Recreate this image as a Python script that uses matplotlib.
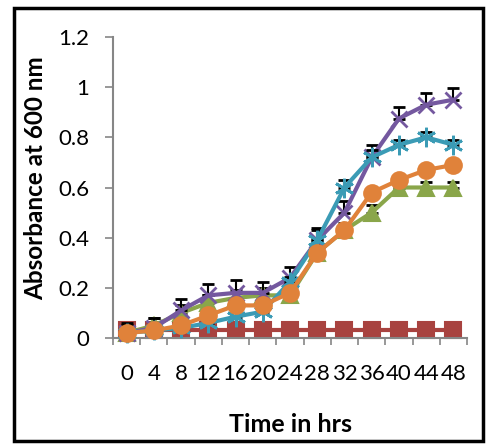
import numpy as np
import matplotlib.pyplot as plt
from matplotlib.patches import Rectangle

# Dados (absorbância a 600 nm)
tempo = ['0', '4', '8', '12', '16', '20', '24', '28', '32', '36', '40', '44', '48']

quadrado = [0.03, 0.03, 0.03, 0.03, 0.03, 0.03, 0.03, 0.03, 0.03, 0.03, 0.03, 0.03, 0.03]
triangulo = [0.02, 0.05, 0.10, 0.14, 0.16, 0.17, 0.17, 0.34, 0.43, 0.50, 0.60, 0.60, 0.60]
xis = [0.02, 0.04, 0.11, 0.17, 0.18, 0.18, 0.24, 0.39, 0.50, 0.72, 0.875, 0.93, 0.95]
asterisco = [0.02, 0.03, 0.04, 0.06, 0.085, 0.105, 0.225, 0.39, 0.60, 0.72, 0.77, 0.80, 0.77]
circulo = [0.02, 0.03, 0.05, 0.09, 0.13, 0.13, 0.18, 0.34, 0.43, 0.58, 0.63, 0.67, 0.69]

err_quadrado = [0.01] * 13
err_triangulo = [0.03, 0.03, 0.03, 0.03, 0.03, 0.03, 0.03, 0.03, 0.03, 0.03, 0.02, 0.02, 0.02]
err_xis = [0.04, 0.04, 0.045, 0.045, 0.05, 0.045, 0.045, 0.05, 0.045, 0.05, 0.045, 0.045, 0.045]
err_asterisco = [0.02, 0.02, 0.02, 0.02, 0.02, 0.02, 0.02, 0.04, 0.03, 0.03, 0.02, 0.02, 0.02]
err_circulo = [0.01] * 13

series = [
    (quadrado, err_quadrado, '#A8423F', 's', 11),
    (triangulo, err_triangulo, '#8AA64A', '^', 12),
    (xis, err_xis, '#74589F', 'x', 11),
    (asterisco, err_asterisco, '#3B9BB5', (6, 2, 0), 14),
    (circulo, err_circulo, '#E0823A', 'o', 12),
]

plt.rcParams['font.family'] = ['Lato', 'DejaVu Sans']

fig = plt.figure(figsize=(4.86, 4.44), dpi=100)
ax = fig.add_axes([0.2325, 0.2387, 0.7285, 0.678])

x = np.arange(len(tempo))
for i, (vals, err, cor, marc, ms) in enumerate(series):
    z = 2 + i
    ax.errorbar(x, vals, yerr=[np.zeros(len(vals)), err], fmt='none',
                ecolor='black', elinewidth=1.5, capsize=4, capthick=2, zorder=z)
    ax.plot(x, vals, color=cor, linewidth=3, marker=marc, markersize=ms,
            markeredgewidth=1.5 if marc not in ('x',) and not isinstance(marc, tuple) else 2,
            markeredgecolor=cor, markerfacecolor=cor, zorder=z + 0.5, clip_on=False)

ax.set_xlim(-0.5, 12.5)
ax.set_ylim(0, 1.2)
ax.set_yticks(np.arange(0, 1.21, 0.2))
ax.set_yticklabels(['0', '0.2', '0.4', '0.6', '0.8', '1', '1.2'])
ax.set_xticks(x)
ax.set_xticklabels(tempo)
ax.set_xticks(np.arange(-0.5, 13, 1), minor=True)

for lado in ('top', 'right'):
    ax.spines[lado].set_visible(False)
for lado in ('left', 'bottom'):
    ax.spines[lado].set_color('#868686')
    ax.spines[lado].set_linewidth(1.5)

ax.tick_params(axis='x', which='major', length=0, pad=19, labelsize=16)
ax.tick_params(axis='x', which='minor', length=5, width=1.2, color='#868686')
ax.tick_params(axis='y', length=6, width=1.2, color='#868686', labelsize=16, pad=11)

ax.set_xlabel('Time in hrs', fontsize=18, fontweight='bold')
ax.set_ylabel('Absorbance at 600 nm', fontsize=17.5, fontweight='bold')
ax.xaxis.set_label_coords(0.5, -0.25)
ax.yaxis.set_label_coords(-0.185, 0.53)

fig.patches.append(Rectangle((14 / 486, 3 / 444), 469 / 486, 433 / 444,
                             transform=fig.transFigure, fill=False,
                             edgecolor='black', linewidth=2.5))

fig.savefig('out.png', dpi=100)
